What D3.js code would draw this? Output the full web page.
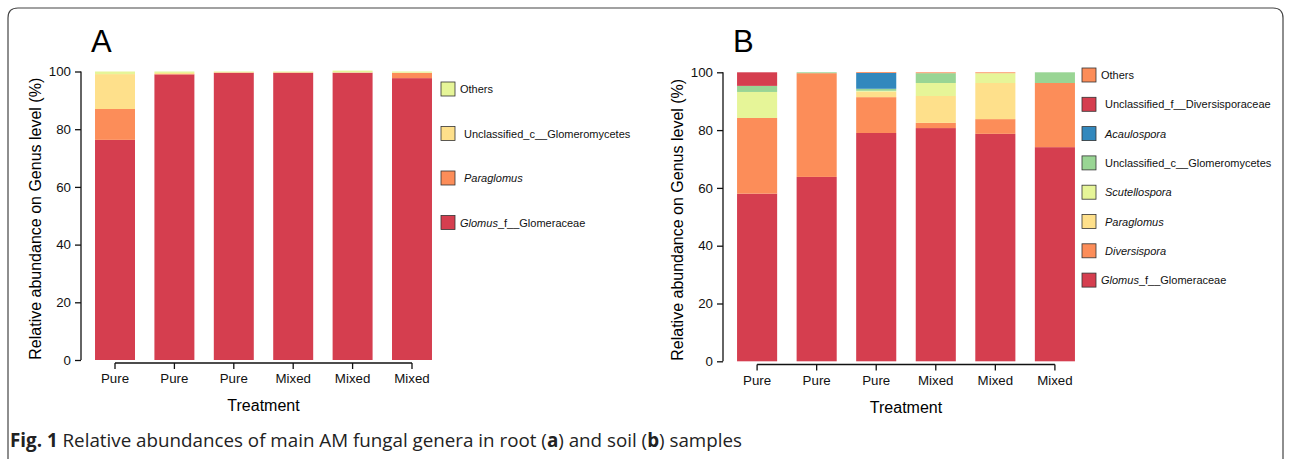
<!DOCTYPE html>
<html>
<head>
<meta charset="utf-8">
<script src="https://cdn.jsdelivr.net/npm/d3@7"></script>
<style>
  body { margin: 0; background: #fff; }
  svg { display: block; font-family: "Liberation Sans", Arial, sans-serif; }
</style>
</head>
<body>
<svg id="fig" width="1290" height="459"></svg>
<script>
const treatments = ["Pure", "Pure", "Pure", "Mixed", "Mixed", "Mixed"];
const yTicks = [0, 20, 40, 60, 80, 100];

// root samples (A), bottom to top
const rootGenera = ["Glomus_f__Glomeraceae", "Paraglomus", "Unclassified_c__Glomeromycetes", "Others"];
const rootGlomus = [76.3, 99.0, 99.6, 99.6, 99.6, 97.7];
const rootParaglomus = [10.7, 0.1, 0.0, 0.0, 0.0, 1.8];
const rootUnclassifiedC = [12.1, 0.4, 0.2, 0.2, 0.1, 0.1];
const rootOthers = [0.9, 0.5, 0.2, 0.2, 0.6, 0.4];

// soil samples (B), bottom to top
const soilGenera = ["Glomus_f__Glomeraceae", "Diversispora", "Paraglomus", "Scutellospora",
    "Unclassified_c__Glomeromycetes", "Acaulospora", "Unclassified_f__Diversisporaceae", "Others"];
const soilGlomus = [58.0, 63.8, 79.0, 80.7, 78.7, 74.1];
const soilDiversispora = [26.2, 35.9, 12.4, 1.8, 5.1, 22.2];
const soilParaglomus = [0.0, 0.0, 1.9, 9.3, 12.5, 0.0];
const soilScutellospora = [9.0, 0.0, 0.3, 4.5, 3.4, 0.0];
const soilUnclassifiedC = [2.1, 0.3, 0.7, 3.4, 0.0, 3.7];
const soilAcaulospora = [0.0, 0.0, 5.5, 0.0, 0.0, 0.0];
const soilUnclassifiedF = [4.7, 0.0, 0.0, 0.0, 0.0, 0.0];
const soilOthers = [0.0, 0.0, 0.3, 0.3, 0.3, 0.0];

const italicNames = ["Glomus", "Paraglomus", "Diversispora", "Scutellospora", "Acaulospora"];
const FONT = "'Liberation Sans', Arial, sans-serif";

function buildRows(genera, series) {
    return treatments.map(function (t, i) {
        const row = {index: i, label: t};
        genera.forEach(function (g, k) { row[g] = series[k][i]; });
        return row;
    });
}

function stackedChart(svg, data, genera, colors, options) {
    const x = d3.scaleBand()
        .domain(d3.range(treatments.length))
        .range(options.xRange)
        .paddingInner(0.327)
        .paddingOuter(0.236);
    const y = d3.scaleLinear().domain([0, 100]).range(options.yRange);
    const color = d3.scaleOrdinal().domain(genera).range(colors);

    const series = d3.stack().keys(genera)(data);

    const g = svg.append("g");
    g.selectAll("g.layer")
        .data(series)
        .enter()
        .append("g")
        .attr("class", "layer")
        .style("fill", function (d) { return color(d.key); })
        .selectAll("rect")
        .data(function (d) { return d; })
        .enter()
        .append("rect")
        .attr("x", function (d) { return x(d.data.index); })
        .attr("width", x.bandwidth())
        .attr("y", function (d) { return y(d[1]); })
        .attr("height", function (d) { return Math.max(0, y(d[0]) - y(d[1])); });

    // y axis (base R style)
    const yAxis = svg.append("g")
        .attr("transform", `translate(${options.xRange[0]}, 0)`)
        .call(d3.axisLeft(y).tickValues(yTicks).tickSize(6).tickPadding(4));
    yAxis.select(".domain").attr("d", `M0,${y(0)}V${y(100)}`);

    // x axis spans first to last tick
    const xAxis = svg.append("g")
        .attr("transform", `translate(0, ${options.xAxisY})`)
        .call(d3.axisBottom(x).tickFormat(function (i) { return treatments[i]; }).tickSize(6).tickPadding(5));
    const c0 = x(0) + x.bandwidth() / 2;
    const c1 = x(treatments.length - 1) + x.bandwidth() / 2;
    xAxis.select(".domain").attr("d", `M${c0},0H${c1}`);

    [yAxis, xAxis].forEach(function (a) {
        a.attr("font-family", FONT);
        a.selectAll(".tick text").style("font-size", "13.3px").style("fill", "#111");
        a.selectAll(".tick line, .domain").style("stroke", "#111").style("stroke-width", 1.3);
    });

    svg.append("text")
        .attr("x", (c0 + c1) / 2)
        .attr("y", options.xAxisY + 48)
        .style("text-anchor", "middle")
        .style("font-size", "16px")
        .text("Treatment");

    const midY = (options.yRange[0] + options.yRange[1]) / 2;
    svg.append("text")
        .attr("transform", `translate(${options.xRange[0] - 40}, ${midY + 3}) rotate(-90)`)
        .style("text-anchor", "middle")
        .style("font-size", "16px")
        .text("Relative abundance on Genus level (%)");

    // panel letter
    svg.append("text")
        .attr("x", options.letterX)
        .attr("y", 52)
        .style("font-size", "31px")
        .text(options.letter);

    // legend, top entry = last genus
    const legend = svg.append("g");
    const items = genera.slice().reverse();
    items.forEach(function (name, i) {
        const cy = options.legendY + i * options.legendStep;
        legend.append("rect")
            .attr("x", options.legendX)
            .attr("y", cy - 7)
            .attr("width", 14)
            .attr("height", 14)
            .style("fill", color(name))
            .style("stroke", "#333")
            .style("stroke-width", 0.8);
        const t = legend.append("text")
            .attr("x", options.legendX + 19 + (name === "Others" || name.startsWith("Glomus") ? 0 : 4))
            .attr("y", cy + 4)
            .style("font-size", "11px")
            .style("fill", "#111");
        const it = italicNames.find(function (n) { return name.startsWith(n); });
        if (it) {
            t.append("tspan").style("font-style", "italic").text(it);
            if (name.length > it.length) t.append("tspan").text(name.slice(it.length));
        } else {
            t.text(name);
        }
    });
}

const svg = d3.select("#fig");

// figure frame
svg.append("path")
    .attr("d", "M8,470 V18 Q8,8 18,8 H1273 Q1283,8 1283,18 V470")
    .style("fill", "none")
    .style("stroke", "#444")
    .style("stroke-width", 1.2);

stackedChart(svg, buildRows(rootGenera, [rootGlomus, rootParaglomus, rootUnclassifiedC, rootOthers]),
    rootGenera, ["#d53e4f", "#fc8d59", "#fee08b", "#e6f598"], {
        xRange: [81, 446], yRange: [360, 71.5], xAxisY: 363,
        letter: "A", letterX: 91,
        legendX: 441, legendY: 89, legendStep: 44.5
    });

stackedChart(svg, buildRows(soilGenera, [soilGlomus, soilDiversispora, soilParaglomus, soilScutellospora,
        soilUnclassifiedC, soilAcaulospora, soilUnclassifiedF, soilOthers]),
    soilGenera, ["#d53e4f", "#fc8d59", "#fee08b", "#e6f598", "#99d594", "#3288bd", "#d53e4f", "#fc8d59"], {
        xRange: [723, 1089], yRange: [361.3, 72.3], xAxisY: 364.5,
        letter: "B", letterX: 733,
        legendX: 1082, legendY: 75, legendStep: 29.3
    });

// caption
const cap = svg.append("text")
    .attr("x", 10)
    .attr("y", 447)
    .style("font-family", "'Open Sans', 'Noto Sans', sans-serif")
    .style("font-size", "18.8px")
    .style("fill", "#222");
cap.append("tspan").style("font-weight", "bold").text("Fig. 1");
cap.append("tspan").text(" Relative abundances of main AM fungal genera in root (");
cap.append("tspan").style("font-weight", "bold").text("a");
cap.append("tspan").text(") and soil (");
cap.append("tspan").style("font-weight", "bold").text("b");
cap.append("tspan").text(") samples");
</script>
</body>
</html>
